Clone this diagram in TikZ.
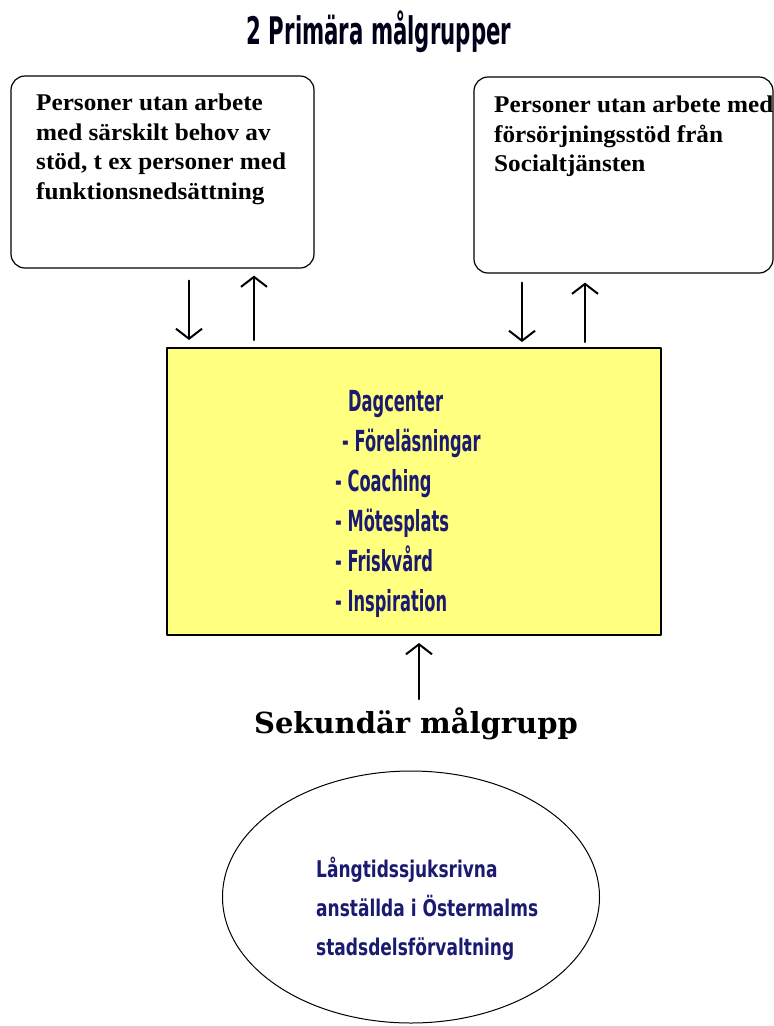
\documentclass[tikz,border=0pt]{standalone}
\usepackage{fontspec}
\setmainfont{Liberation Serif}
\newfontfamily\agency[FakeStretch=0.56]{DejaVu Sans}
\newfontfamily\agencywide[FakeStretch=0.74]{DejaVu Sans}
\newfontfamily\boxserif[FakeStretch=1.05]{Liberation Serif}
\newfontfamily\slabserif{DejaVu Serif}
\usetikzlibrary{arrows.meta,shapes.geometric}
\definecolor{dcyellow}{HTML}{FFFF80}
\definecolor{dcnavy}{HTML}{1A1A70}
\tikzset{
  grpbox/.style={draw,rounded corners=14pt,line width=1.2pt,inner sep=0pt},
  grptext/.style={anchor=north west,inner sep=0pt,align=left,
                  font=\boxserif\bfseries\fontsize{24}{29.5}\selectfont},
  arr/.style={line width=2pt,-{Straight Barb[length=10pt,width=26pt]}},
  every picture/.style={line cap=round,line join=round}}

\begin{document}
\begin{tikzpicture}[x=1pt,y=-1pt]
  \useasboundingbox (0,0) rectangle (774,1026);
  \node[font=\agency\bfseries\fontsize{38}{40}\selectfont,text=black!90!blue,
        inner sep=0pt,anchor=base] (title) at (379,44) {2 Primära målgrupper};
  \node[grpbox,minimum width=303pt,minimum height=192pt] (lbox) at (162.5,172){};
  \node[grptext] (ltext) at (36,94)
    {Personer utan arbete\\med särskilt behov av\\stöd, t ex personer med\\funktionsnedsättning};
  \node[grpbox,minimum width=299pt,minimum height=196pt] (rbox) at (623.5,175){};
  \node[grptext] (rtext) at (494,96)
    {Personer utan arbete med\\försörjningsstöd från\\Socialtjänsten};
  \node[draw,fill=dcyellow,line width=2pt,inner sep=0pt,
        minimum width=494pt,minimum height=287pt] (dc) at (414,491.5){};
  \node[anchor=north west,align=left,inner sep=0pt,text=dcnavy,
        font=\agency\bfseries\fontsize{29}{40}\selectfont] (dctext) at (335,390)
    {\hspace*{13pt}Dagcenter\\\hspace*{7pt}- Föreläsningar\\- Coaching\\- Mötesplats\\- Friskvård\\- Inspiration};
  \node[font=\slabserif\bfseries\fontsize{29}{30}\selectfont,inner sep=0pt,
        anchor=base] (sek) at (416,733){Sekundär målgrupp};
  \node[draw,ellipse,line width=1pt,inner sep=0pt,
        minimum width=377pt,minimum height=252pt] (sec) at (411,897){};
  \node[anchor=north west,align=left,inner sep=0pt,text=dcnavy,
        font=\agencywide\bfseries\fontsize{23}{39}\selectfont] (sectext) at (316,857)
    {Långtidssjuksrivna\\anställda i Östermalms\\stadsdelsförvaltning};
  \coordinate (u1) at (189,0); \coordinate (u2) at (254,0);
  \coordinate (u3) at (522,0); \coordinate (u4) at (585,0);
  \coordinate (u5) at (419,0);
  \draw[arr,shorten <=12pt,shorten >=7pt] (lbox.south -| u1) -- (dc.north -| u1);
  \draw[arr,shorten <=7pt,shorten >=7pt] (dc.north -| u2) -- (lbox.south -| u2);
  \draw[arr,shorten <=9pt,shorten >=5pt] (rbox.south -| u3) -- (dc.north -| u3);
  \draw[arr,shorten <=5pt,shorten >=9pt] (dc.north -| u4) -- (rbox.south -| u4);
  \draw[arr,shorten <=8pt,shorten >=7pt] (sek.north -| u5) -- (dc.south -| u5);
\end{tikzpicture}
\end{document}
